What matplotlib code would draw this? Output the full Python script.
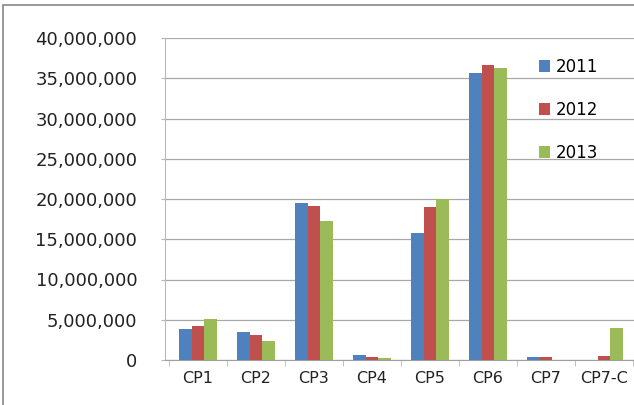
import matplotlib.pyplot as plt
import matplotlib.ticker as mticker
import numpy as np

categories = ['CP1', 'CP2', 'CP3', 'CP4', 'CP5', 'CP6', 'CP7', 'CP7-C']
years = ['2011', '2012', '2013']
v2011 = [3850000, 3500000, 19500000, 650000, 15800000, 35600000, 400000, 0]
v2012 = [4200000, 3100000, 19100000, 400000, 19000000, 36600000, 400000, 450000]
v2013 = [5100000, 2400000, 17300000, 200000, 20000000, 36300000, 0, 4000000]
colors = ['#4F81BD', '#C0504D', '#9BBB59']

fig = plt.figure(figsize=(6.34, 4.05), dpi=100)
ax = fig.add_axes([165/634, 45/405, 1 - 165/634, 322/405])

x = np.arange(len(categories))
w = 0.215
for i, (vals, lab) in enumerate(zip([v2011, v2012, v2013], years)):
    ax.bar(x + (i - 1) * w, vals, w, color=colors[i], label=lab, zorder=3)

ax.set_xlim(-0.57, 7.52)
ax.set_ylim(0, 40000000)
ax.set_yticks(np.arange(0, 40000001, 5000000))
ax.yaxis.set_major_formatter(mticker.FuncFormatter(lambda v, p: '{:,.0f}'.format(v)))
ax.set_xticks(x)
ax.set_xticklabels(categories)
ax.set_xticks(np.arange(-0.5, 8, 1), minor=True)

ax.grid(axis='y', color='#a8a8a8', linewidth=0.9, zorder=0)
for s in ['top', 'right']:
    ax.spines[s].set_visible(False)
ax.spines['left'].set_color('#b8b8b8')
ax.spines['bottom'].set_color('#a0a0a0')
ax.tick_params(axis='y', length=3, color='#b8b8b8', pad=17, labelsize=13, labelcolor='#222222')
ax.tick_params(axis='x', which='major', length=0, pad=8, labelsize=11.5, labelcolor='#222222')
ax.tick_params(axis='x', which='minor', length=4, color='#b8b8b8')

ax.legend(loc='upper left', bbox_to_anchor=(0.765, 0.985), frameon=False, fontsize=12,
          handlelength=0.7, handleheight=0.7, handletextpad=0.3, labelspacing=1.5)

fig.patches.append(plt.Rectangle((3/634, -0.1), 1.2, 1 - 5/405 + 0.1, transform=fig.transFigure,
                                 fill=False, edgecolor='#888888', linewidth=1.2))

fig.savefig('out.png')
